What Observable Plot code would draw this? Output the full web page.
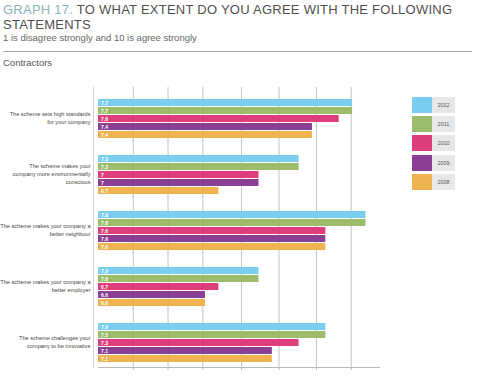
<!DOCTYPE html>
<html>
<head>
<meta charset="utf-8">
<script src="https://cdn.jsdelivr.net/npm/d3@7"></script>
<script src="https://cdn.jsdelivr.net/npm/@observablehq/plot@0.6"></script>
<style>
  html, body { margin: 0; padding: 0; background: #fff; }
  #page { position: relative; width: 480px; height: 378px; font-family: "Liberation Sans", Arial, sans-serif; overflow: hidden; }
  #header { position: relative; height: 70px; }
  .title { position: absolute; left: 3px; font-size: 13px; line-height: 14.5px; letter-spacing: 0.25px; color: #4f4f4f; white-space: nowrap; }
  #t1 { top: 3.2px; }
  #t2 { top: 17.8px; }
  .title .num { color: #8bb3ba; }
  #subtitle { position: absolute; left: 3px; top: 32.2px; font-size: 9.5px; line-height: 11px; color: #666; white-space: nowrap; }
  #rule { position: absolute; left: 3px; top: 51px; width: 469px; border-top: 1px solid #aaa; }
  #section { position: absolute; left: 3px; top: 56.7px; font-size: 9.5px; line-height: 11px; color: #555; }
  #legend { position: absolute; left: 412px; top: 97px; }
  .item { display: flex; height: 16px; margin-bottom: 3.2px; }
  .sw { width: 20px; height: 16px; }
  .lab { width: 23px; height: 16px; background: #e7e7e7; font-size: 5.5px; line-height: 16px; text-align: center; color: #555; }
</style>
</head>
<body>
<div id="page">
  <div id="header">
    <div id="t1" class="title"><span class="num">GRAPH 17.</span> TO WHAT EXTENT DO YOU AGREE WITH THE FOLLOWING</div>
    <div id="t2" class="title">STATEMENTS</div>
    <div id="subtitle">1 is disagree strongly and 10 is agree strongly</div>
    <div id="rule"></div>
    <div id="section">Contractors</div>
  </div>
  <div id="chart"></div>
  <div id="legend"></div>
</div>
<script>
const groups = [
  "The scheme sets high standards\nfor your company",
  "The scheme makes your\ncompany more environmentally\nconscious",
  "The scheme makes your company a\nbetter neighbour",
  "The scheme makes your company a\nbetter employer",
  "The scheme challenges your\ncompany to be innovative"
];
const years = ["2012", "2011", "2010", "2009", "2008"];
const colors = ["#79cdef", "#9bbd6b", "#df3e7d", "#8a3e94", "#eeb24e"];

const v2012 = [7.7, 7.3, 7.8, 7.0, 7.5];
const v2011 = [7.7, 7.3, 7.8, 7.0, 7.5];
const v2010 = [7.6, 7.0, 7.5, 6.7, 7.3];
const v2009 = [7.4, 7.0, 7.5, 6.6, 7.1];
const v2008 = [7.4, 6.7, 7.5, 6.6, 7.1];

const l2012 = ["7.7", "7.3", "7.8", "7.0", "7.6"];
const l2011 = ["7.7", "7.3", "7.8", "7.0", "7.5"];
const l2010 = ["7.6", "7", "7.6", "6.7", "7.3"];
const l2009 = ["7.4", "7", "7.6", "6.6", "7.1"];
const l2008 = ["7.4", "6.7", "7.6", "6.6", "7.1"];

const axisMin = 5.8;
const axisMax = 7.9;
const gridValues = [6.06, 6.32, 6.58, 6.87, 7.15, 7.43, 7.69];

const series = [v2012, v2011, v2010, v2009, v2008];
const labels = [l2012, l2011, l2010, l2009, l2008];
const data = groups.flatMap((g, i) => years.map((y, j) => ({
  group: g, year: y, value: series[j][i], label: labels[j][i]
})));

const chart = Plot.plot({
  width: 480,
  height: 308,
  marginTop: 16,
  marginBottom: 10,
  marginLeft: 98,
  marginRight: 101.2,
  style: { fontFamily: "Liberation Sans, Arial, sans-serif", background: "transparent" },
  x: { domain: [axisMin, axisMax], label: null },
  y: { domain: years, axis: null, padding: 0.17, insetTop: 9.6, insetBottom: 3 },
  fy: { domain: groups, axis: null, padding: 0 },
  color: { domain: years, range: colors },
  marks: [
    Plot.gridX(gridValues, { stroke: "#c4c4c4", strokeOpacity: 1 }),
    Plot.axisX(gridValues, { tickSize: 3, tickFormat: () => "", stroke: "#b8b8b8", label: null }),
    Plot.frame({ anchor: "bottom", facet: "super", stroke: "#b8b8b8" }),
    Plot.frame({ anchor: "left", facet: "super", stroke: "#d0d0d0", dx: -5 }),
    Plot.barX(data, { fy: "group", y: "year", x1: axisMin, x2: "value", fill: "year" }),
    Plot.text(data, { fy: "group", y: "year", x: axisMin, text: "label", dx: 2.5, textAnchor: "start", fill: "white", fontSize: 5, fontWeight: "bold" }),
    Plot.text(groups, { fy: d => d, text: d => d, frameAnchor: "left", textAnchor: "end", dx: -8, dy: 2, fontSize: 5.6, lineHeight: 1.37, fill: "#444" })
  ]
});
document.getElementById("chart").appendChild(chart);

const legend = d3.select("#legend");
years.forEach((y, j) => {
  const item = legend.append("div").attr("class", "item");
  item.append("div").attr("class", "sw").style("background", colors[j]);
  item.append("div").attr("class", "lab").text(y);
});
</script>
</body>
</html>
